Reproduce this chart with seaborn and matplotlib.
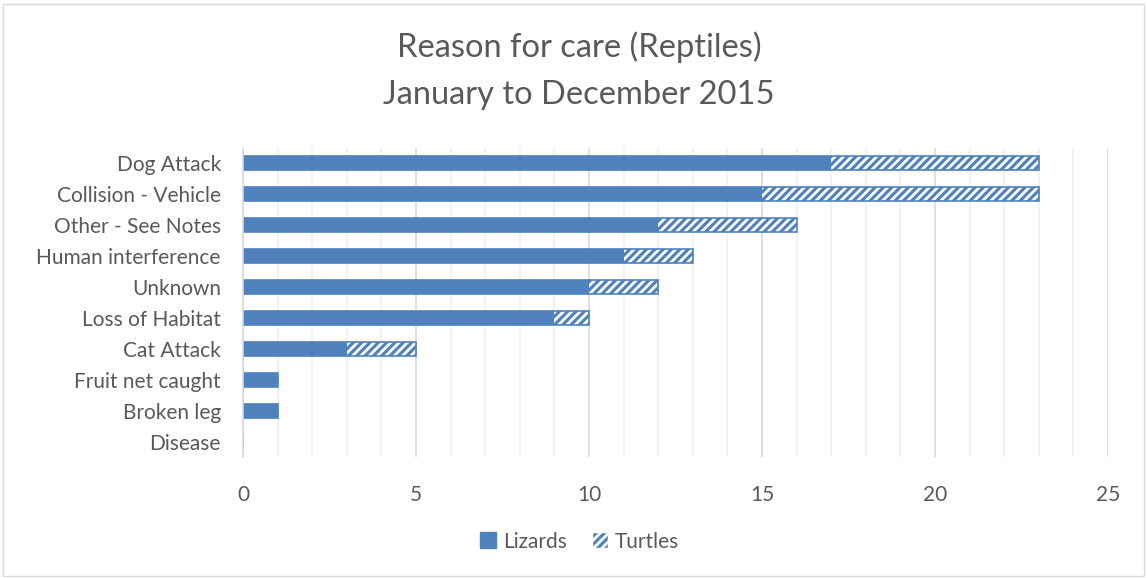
import matplotlib
matplotlib.use("Agg")
import matplotlib.pyplot as plt
import seaborn as sns
import pandas as pd
from matplotlib.patches import Patch, Rectangle

categories = ["Dog Attack", "Collision - Vehicle", "Other - See Notes", "Human interference",
              "Unknown", "Loss of Habitat", "Cat Attack", "Fruit net caught", "Broken leg", "Disease"]
lizards = [17, 15, 12, 11, 10, 9, 3, 1, 1, 0]
turtles = [6, 8, 4, 2, 2, 1, 2, 0, 0, 0]
xticks = [0, 5, 10, 15, 20, 25]

sns.set_style("white")
plt.rcParams['font.family'] = ['Lato', 'DejaVu Sans']
plt.rcParams['hatch.linewidth'] = 2.0

BLUE = "#4F81BD"
TXT = "#595959"

df = pd.DataFrame({"Reason": categories, "Lizards": lizards, "Turtles": turtles})
df["Total"] = df["Lizards"] + df["Turtles"]

fig = plt.figure(figsize=(11.47, 5.78), dpi=100)
ax = fig.add_axes([0.2119, 0.209, 0.966 - 0.2119, 0.744 - 0.209])

# turtles (stacked) drawn as totals with hatch, lizards drawn on top
sns.barplot(data=df, y="Reason", x="Total", order=categories, color=BLUE, orient="h",
            width=0.45, ax=ax, edgecolor="white", linewidth=0, hatch="////", saturation=1)
sns.barplot(data=df, y="Reason", x="Total", order=categories, orient="h",
            width=0.45, ax=ax, fill=False, edgecolor=BLUE, linewidth=1.2)
sns.barplot(data=df, y="Reason", x="Lizards", order=categories, color=BLUE, orient="h",
            width=0.45, ax=ax, linewidth=0, saturation=1)

ax.set_xlim(0, 25)
ax.set_ylim(9.5, -0.5)
ax.set_xticks(xticks)
ax.set_xticks(range(0, 26), minor=True)
ax.grid(axis="x", which="minor", color="#F0F0F0", linewidth=1.2)
ax.grid(axis="x", which="major", color="#D9D9D9", linewidth=1.2)
ax.set_axisbelow(True)
for s in ["top", "right", "bottom"]:
    ax.spines[s].set_visible(False)
ax.spines["left"].set_color("#D9D9D9")
ax.spines["left"].set_linewidth(1.2)
ax.tick_params(axis="both", which="both", length=0, labelsize=15, colors=TXT)
ax.tick_params(axis="x", pad=20)
ax.tick_params(axis="y", pad=16)
ax.set_xlabel("")
ax.set_ylabel("")

fig.text(0.505, 0.918, "Reason for care (Reptiles)", ha="center", va="center", fontsize=23.5, color=TXT)
fig.text(0.505, 0.835, "January to December 2015", ha="center", va="center", fontsize=23.5, color=TXT)

handles = [Patch(facecolor=BLUE, edgecolor=BLUE, label="Lizards"),
           Patch(facecolor=BLUE, edgecolor="white", hatch="////", label="Turtles")]
fig.legend(handles=handles, loc="center", bbox_to_anchor=(0.505, 0.063), ncol=2, frameon=False,
           fontsize=15, labelcolor=TXT, handlelength=0.8, handleheight=0.8, handletextpad=0.3,
           columnspacing=1.2)

fig.patches.append(Rectangle((0.003, 0.003), 0.994, 0.99, transform=fig.transFigure,
                             fill=False, edgecolor="#D9D9D9", linewidth=1))

fig.savefig("out.png", dpi=100, facecolor="white")
